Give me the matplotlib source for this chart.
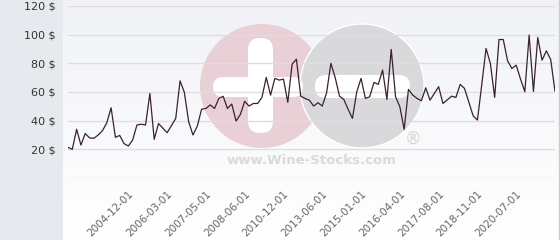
import numpy as np
import matplotlib
matplotlib.use('Agg')
import matplotlib.pyplot as plt
from matplotlib.patches import Circle, FancyBboxPatch
from matplotlib.lines import Line2D

prices = [21.4, 20, 34, 23, 31, 28, 27.7, 30, 33, 38.5,
          49, 28.4, 29.7, 24, 22.3, 26.5, 37, 37.5, 37, 59,
          27, 38, 34.8, 31.6, 36.5, 41.6, 67.8, 59.7, 39.2, 30,
          36.2, 48, 48.5, 51, 48.5, 55.5, 57, 48.5, 51.6, 39.7,
          44.4, 53.5, 50.2, 52, 52, 56.2, 70.2, 57.8, 69.5, 68.3,
          69, 52.8, 79.4, 82.9, 57.1, 55.5, 54.3, 50.2, 52.5, 50.2,
          59.4, 80, 70, 57.1, 54.8, 47.9, 41.6, 60.1, 69.5, 55.5,
          56.7, 66.7, 65.3, 75.3, 54.8, 89.7, 56.7, 49.7, 33.9, 61.8,
          57.8, 55.5, 53.9, 62.9, 54.3, 59, 63.7, 52, 54.5, 57.1,
          56.2, 65.3, 62.5, 53, 43.4, 40.4, 65, 90.4, 80, 56.2,
          96.6, 96.6, 81.7, 76.4, 78.7, 69, 60.2, 99.7, 60.4, 98,
          82.2, 88.7, 82.7, 60.5]

tick_labels = ['2004-12-01', '2006-03-01', '2007-05-01', '2008-06-01',
               '2010-12-01', '2013-06-01', '2015-01-01', '2016-04-01',
               '2017-08-01', '2018-11-01', '2020-07-01']
first_tick = 14
tick_step = 9

y_ticks = [20, 40, 60, 80, 100, 120]

W, H = 560, 240
fig = plt.figure(figsize=(W / 100, H / 100), dpi=100)
fig.patch.set_facecolor('#e6eaee')

# gradient panel behind the plot
bg = fig.add_axes([63 / W, 0, 1 - 63 / W, 1], zorder=0)
grad = np.linspace(0, 1, 256).reshape(-1, 1)
c_top = np.array([0.945, 0.950, 0.970])
c_bot = np.array([1.0, 1.0, 1.0])
img = c_top[None, None, :] * (1 - grad[:, :, None]) + c_bot[None, None, :] * grad[:, :, None]
bg.imshow(img, aspect='auto', extent=[0, 1, 0, 1], origin='upper')
bg.set_axis_off()

# watermark layer in pixel coords
wm = fig.add_axes([0, 0, 1, 1], zorder=1)
wm.set_xlim(0, W)
wm.set_ylim(H, 0)
wm.set_axis_off()
wm.patch.set_alpha(0)
pink = '#e9d0d6'
grey = '#d9d9db'
wm.add_patch(Circle((262, 86), 62, color=pink, lw=0))
wm.add_patch(Circle((362, 86), 62, facecolor=grey, edgecolor='white', lw=1))
wm.add_patch(FancyBboxPatch((248, 38), 25, 95, boxstyle='round,pad=0,rounding_size=12',
                            color='white', lw=0))
wm.add_patch(FancyBboxPatch((213, 77), 90, 20, boxstyle='round,pad=0,rounding_size=10',
                            color='white', lw=0))
wm.add_patch(FancyBboxPatch((315, 75), 95, 23, boxstyle='round,pad=0,rounding_size=11',
                            color='white', lw=0))
wm.text(312, 161, 'www.Wine-Stocks.com', color='#dadada', fontsize=9.5,
        fontweight='bold', ha='center', va='center')
wm.text(413, 139, '\u00ae', color='#d6d6d6', fontsize=12, ha='center', va='center')

# main chart
ax = fig.add_axes([68 / W, (H - 178) / H, 487 / W, 172 / H], zorder=2)
ax.patch.set_alpha(0)
x = np.arange(len(prices))
for yv in [0] + y_ticks:
    ax.axhline(yv, color='#dedede', lw=1, zorder=1)
ax.plot(x, prices, color='#3b2130', lw=0.9, zorder=3)

ax.set_xlim(0, len(prices) - 1)
ax.set_ylim(0, 120)
for s in ax.spines.values():
    s.set_visible(False)

ax.set_yticks(y_ticks)
ax.set_yticklabels([f'{v} $' for v in y_ticks], fontsize=8, color='#333333')
ax.tick_params(axis='y', length=0, pad=9)

pos = [first_tick + i * tick_step for i in range(len(tick_labels))]
ax.set_xticks(pos)
ax.set_xticklabels(tick_labels, rotation=45, ha='right', rotation_mode='anchor',
                   fontsize=7.5, color='#666666')
ax.tick_params(axis='x', length=0, pad=8)

# right border of the chart panel
fig.add_artist(Line2D([558.5 / W, 558.5 / W], [0, 1], color='#cccccc', lw=1,
                      transform=fig.transFigure))

fig.savefig('out.png', dpi=100, facecolor=fig.get_facecolor())
